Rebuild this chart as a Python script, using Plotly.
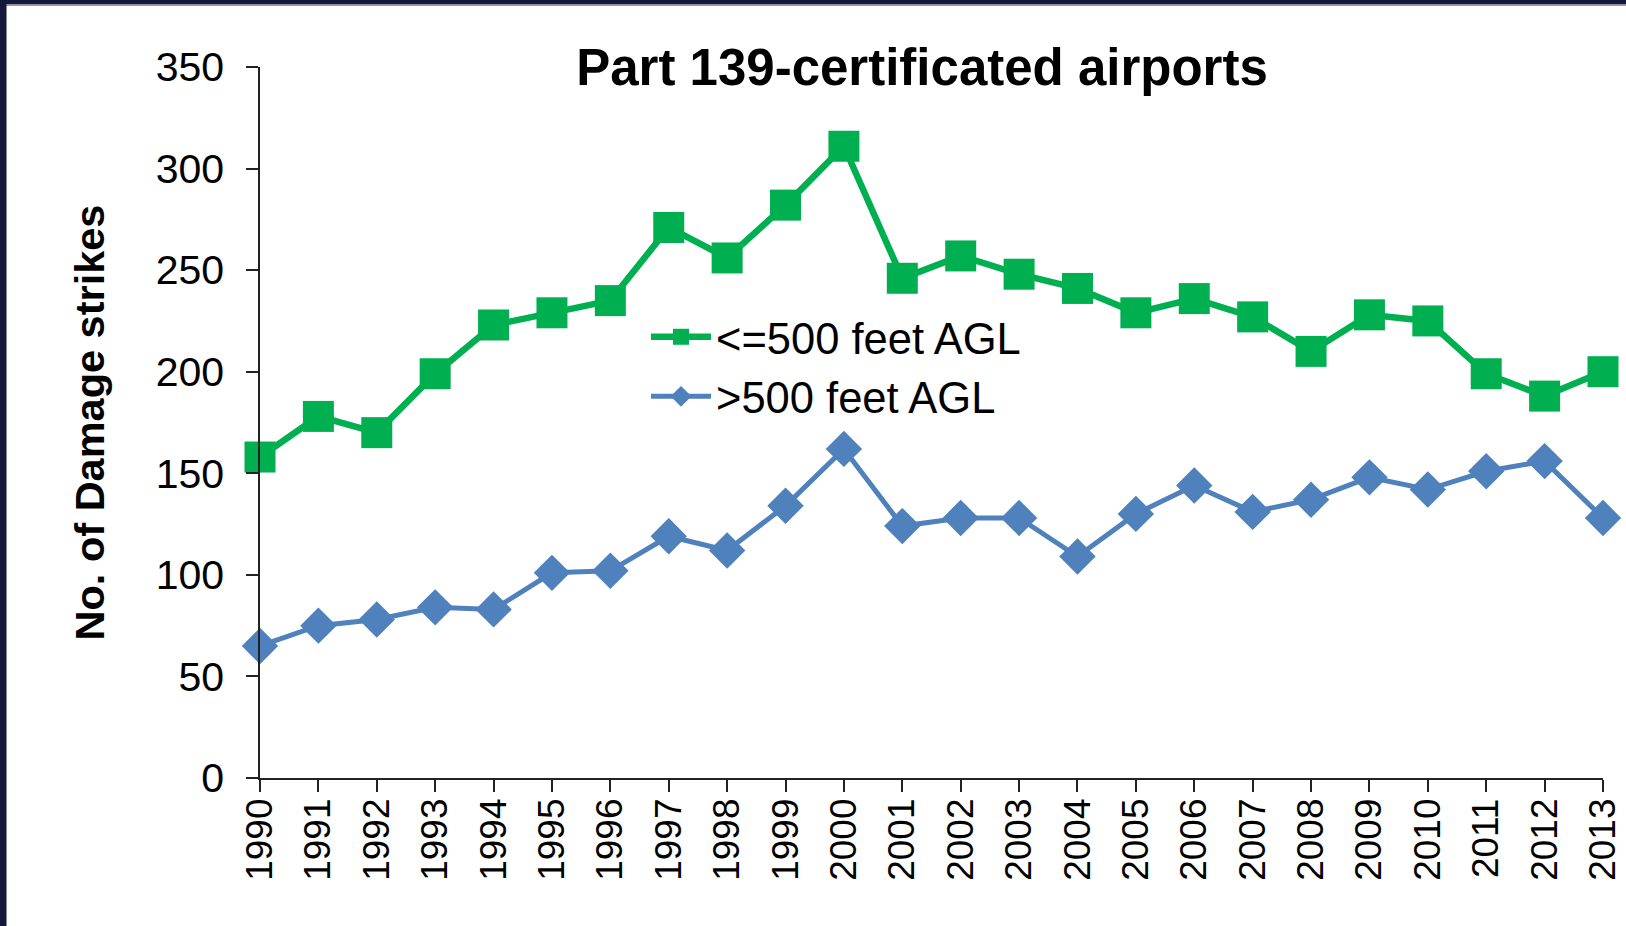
import plotly.graph_objects as go

years = list(range(1990, 2014))
year_labels = [str(y) for y in years]
low_alt = [158, 178, 170, 199, 223, 229, 235, 271, 256, 282, 311, 246,
           257, 248, 241, 229, 236, 227, 210, 228, 225, 199, 188, 200]
high_alt = [65, 75, 78, 84, 83, 101, 102, 119, 112, 134, 162, 124,
            128, 128, 109, 130, 144, 131, 137, 148, 142, 151, 156, 128]
y_ticks = [0, 50, 100, 150, 200, 250, 300, 350]

W, H = 1626, 926
ML, MR, MT, MB = 260, 23, 67, 148
PW, PH = W - ML - MR, H - MT - MB
FONT = "Arial, Liberation Sans, sans-serif"
GREEN = "#00B050"
BLUE = "#4F81BD"
NAVY = "#15183d"

fig = go.Figure()
fig.add_trace(go.Scatter(
    x=years, y=low_alt, name="<=500 feet AGL", mode="lines+markers",
    line=dict(color=GREEN, width=6.5),
    marker=dict(symbol="square", size=31, color=GREEN),
    cliponaxis=False, legendgroup="a",
))
fig.add_trace(go.Scatter(
    x=years, y=high_alt, name=">500 feet AGL", mode="lines+markers",
    line=dict(color=BLUE, width=5),
    marker=dict(symbol="diamond", size=28, color=BLUE),
    cliponaxis=False, legendgroup="b",
))

def px_x(p):
    return (p - ML) / PW

def px_y(p):
    return (H - MB - p) / PH

shapes = [
    dict(type="rect", xref="paper", yref="paper", x0=px_x(0), x1=px_x(W),
         y0=px_y(4.5), y1=px_y(0), fillcolor=NAVY, line=dict(width=0), layer="above"),
    dict(type="rect", xref="paper", yref="paper", x0=px_x(0), x1=px_x(W),
         y0=px_y(6), y1=px_y(4.5), fillcolor="#9a9a9a", line=dict(width=0), layer="above"),
    dict(type="rect", xref="paper", yref="paper", x0=px_x(0), x1=px_x(6.5),
         y0=px_y(H), y1=px_y(0), fillcolor=NAVY, line=dict(width=0), layer="above"),
]

fig.update_layout(
    template="none",
    width=W, height=H,
    margin=dict(l=ML, r=MR, t=MT, b=MB, pad=0, autoexpand=False),
    paper_bgcolor="white", plot_bgcolor="white",
    font=dict(family=FONT, color="black"),
    title=dict(text="<b>Part 139-certificated airports</b>",
               font=dict(size=51, family=FONT, color="black"),
               x=922 / W, xanchor="center", xref="container",
               y=1 - 67 / H, yanchor="middle", yref="container"),
    showlegend=True,
    legend=dict(x=px_x(646), y=px_y(302), xanchor="left", yanchor="top",
                font=dict(size=43.5, family=FONT, color="black"),
                bgcolor="rgba(0,0,0,0)", tracegroupgap=0,
                itemwidth=60),
    xaxis=dict(range=[1990, 2013], tickmode="array", tickvals=years,
               ticktext=year_labels, tickangle=-90, automargin=False,
               ticks="outside", ticklen=12, tickwidth=1.5, tickcolor="#222",
               showline=True, linecolor="#222", linewidth=1.5,
               showgrid=False, zeroline=False, ticklabelstandoff=-8,
               tickfont=dict(size=37, family=FONT, color="black")),
    yaxis=dict(range=[0, 350], tickmode="array", tickvals=y_ticks,
               automargin=False,
               ticks="outside", ticklen=12, tickwidth=1.5, tickcolor="#222",
               showline=True, linecolor="#222", linewidth=1.5,
               showgrid=False, zeroline=False, ticklabelstandoff=14,
               tickfont=dict(size=41, family=FONT, color="black")),
    shapes=shapes,
)
fig.update_yaxes(title=dict(text="<b>No. of Damage strikes</b>",
                            font=dict(size=41.5, family=FONT, color="black"),
                            standoff=38))

fig.write_html(
    "out.html",
    config={"displayModeBar": False},
    post_script="document.body.style.margin='0';document.body.style.overflow='hidden';",
)
